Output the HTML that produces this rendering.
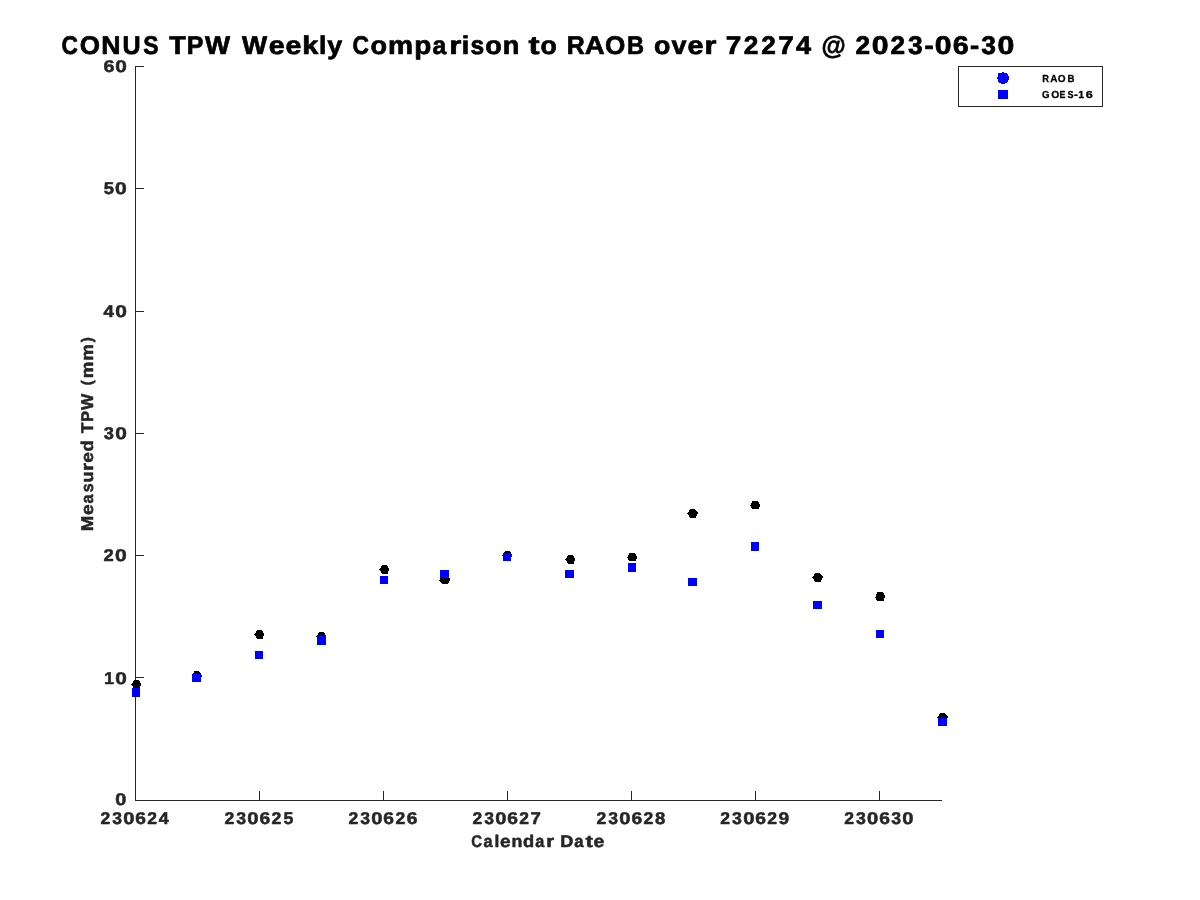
<!DOCTYPE html>
<html lang="en"><head><meta charset="utf-8"><title>CONUS TPW Weekly Comparison</title>
<style>html,body{margin:0;padding:0;background:#fff;}body{width:1200px;height:900px;overflow:hidden;font-family:'Liberation Sans', sans-serif;}svg{display:block;will-change:transform;}text{font-family:'Liberation Sans', sans-serif;font-weight:bold;text-rendering:geometricPrecision;stroke-linejoin:round;}</style></head><body>
<svg width="1200" height="900" viewBox="0 0 1200 900">
<rect width="1200" height="900" fill="#ffffff"/>
<g stroke="#262626" stroke-width="1" fill="none" shape-rendering="crispEdges">
<line x1="135.5" y1="66" x2="135.5" y2="801"/>
<line x1="135" y1="800.5" x2="942" y2="800.5"/>
<line x1="259.5" y1="800.5" x2="259.5" y2="791"/>
<line x1="383.5" y1="800.5" x2="383.5" y2="791"/>
<line x1="507.5" y1="800.5" x2="507.5" y2="791"/>
<line x1="631.5" y1="800.5" x2="631.5" y2="791"/>
<line x1="755.5" y1="800.5" x2="755.5" y2="791"/>
<line x1="879.5" y1="800.5" x2="879.5" y2="791"/>
<line x1="135.5" y1="677.5" x2="144" y2="677.5"/>
<line x1="135.5" y1="555.5" x2="144" y2="555.5"/>
<line x1="135.5" y1="433.5" x2="144" y2="433.5"/>
<line x1="135.5" y1="311.5" x2="144" y2="311.5"/>
<line x1="135.5" y1="188.5" x2="144" y2="188.5"/>
<line x1="135.5" y1="66.5" x2="144" y2="66.5"/>
</g>
<rect x="958.5" y="66.5" width="144" height="40" fill="#ffffff" stroke="#262626" stroke-width="1" shape-rendering="crispEdges"/>
<text transform="translate(61.42,53.60) scale(0.8868,1.0000)" font-size="25.6" fill="#000000" stroke="#000000" stroke-width="0.7">C</text><text transform="translate(79.68,53.60) scale(1.0175,1.0000)" font-size="25.6" fill="#000000" stroke="#000000" stroke-width="0.7">O</text><text transform="translate(101.32,53.60) scale(1.0415,1.0000)" font-size="25.6" fill="#000000" stroke="#000000" stroke-width="0.7">N</text><text transform="translate(122.58,53.60) scale(0.9781,1.0000)" font-size="25.6" fill="#000000" stroke="#000000" stroke-width="0.7">U</text><text transform="translate(143.27,53.60) scale(0.8944,1.0000)" font-size="25.6" fill="#000000" stroke="#000000" stroke-width="0.7">S</text>
<text transform="translate(169.25,53.60) scale(1.0543,1.0000)" font-size="25.6" fill="#000000" stroke="#000000" stroke-width="0.7">T</text><text transform="translate(186.87,53.60) scale(0.9747,1.0000)" font-size="25.6" fill="#000000" stroke="#000000" stroke-width="0.7">P</text><text transform="translate(205.09,53.60) scale(1.0383,1.0000)" font-size="25.6" fill="#000000" stroke="#000000" stroke-width="0.7">W</text>
<text transform="translate(242.12,53.60) scale(1.0398,1.0000)" font-size="25.6" fill="#000000" stroke="#000000" stroke-width="0.7">W</text><text transform="translate(268.64,53.60) scale(1.1176,1.0000)" font-size="25.6" fill="#000000" stroke="#000000" stroke-width="0.7">e</text><text transform="translate(285.42,53.60) scale(1.1176,1.0000)" font-size="25.6" fill="#000000" stroke="#000000" stroke-width="0.7">e</text><text transform="translate(302.30,53.60) scale(1.1337,1.0000)" font-size="25.6" fill="#000000" stroke="#000000" stroke-width="0.7">k</text><text transform="translate(318.93,53.60) scale(1.0316,1.0000)" font-size="25.6" fill="#000000" stroke="#000000" stroke-width="0.7">l</text><text transform="translate(327.26,53.60) scale(1.0557,1.0000)" font-size="25.6" fill="#000000" stroke="#000000" stroke-width="0.7">y</text>
<text transform="translate(352.41,53.60) scale(0.8907,1.0000)" font-size="25.6" fill="#000000" stroke="#000000" stroke-width="0.7">C</text><text transform="translate(370.59,53.60) scale(1.0580,1.0000)" font-size="25.6" fill="#000000" stroke="#000000" stroke-width="0.7">o</text><text transform="translate(388.09,53.60) scale(1.1005,1.0000)" font-size="25.6" fill="#000000" stroke="#000000" stroke-width="0.7">m</text><text transform="translate(414.36,53.60) scale(1.0909,1.0000)" font-size="25.6" fill="#000000" stroke="#000000" stroke-width="0.7">p</text><text transform="translate(432.46,53.60) scale(0.9688,1.0000)" font-size="25.6" fill="#000000" stroke="#000000" stroke-width="0.7">a</text><text transform="translate(449.16,53.60) scale(1.2076,1.0000)" font-size="25.6" fill="#000000" stroke="#000000" stroke-width="0.7">r</text><text transform="translate(461.73,53.60) scale(1.0533,1.0000)" font-size="25.6" fill="#000000" stroke="#000000" stroke-width="0.7">i</text><text transform="translate(470.57,53.60) scale(0.9592,1.0000)" font-size="25.6" fill="#000000" stroke="#000000" stroke-width="0.7">s</text><text transform="translate(485.13,53.60) scale(1.0580,1.0000)" font-size="25.6" fill="#000000" stroke="#000000" stroke-width="0.7">o</text><text transform="translate(502.72,53.60) scale(1.0627,1.0000)" font-size="25.6" fill="#000000" stroke="#000000" stroke-width="0.7">n</text>
<text transform="translate(528.44,53.60) scale(1.2986,1.0000)" font-size="25.6" fill="#000000" stroke="#000000" stroke-width="0.7">t</text><text transform="translate(540.40,53.60) scale(1.0417,1.0000)" font-size="25.6" fill="#000000" stroke="#000000" stroke-width="0.7">o</text>
<text transform="translate(566.68,53.60) scale(0.9742,1.0000)" font-size="25.6" fill="#000000" stroke="#000000" stroke-width="0.7">R</text><text transform="translate(584.82,53.60) scale(1.0767,1.0000)" font-size="25.6" fill="#000000" stroke="#000000" stroke-width="0.7">A</text><text transform="translate(605.00,53.60) scale(1.0196,1.0000)" font-size="25.6" fill="#000000" stroke="#000000" stroke-width="0.7">O</text><text transform="translate(626.90,53.60) scale(0.9205,1.0000)" font-size="25.6" fill="#000000" stroke="#000000" stroke-width="0.7">B</text>
<text transform="translate(654.10,53.60) scale(1.0468,1.0000)" font-size="25.6" fill="#000000" stroke="#000000" stroke-width="0.7">o</text><text transform="translate(671.47,53.60) scale(1.0552,1.0000)" font-size="25.6" fill="#000000" stroke="#000000" stroke-width="0.7">v</text><text transform="translate(687.38,53.60) scale(1.1262,1.0000)" font-size="25.6" fill="#000000" stroke="#000000" stroke-width="0.7">e</text><text transform="translate(704.41,53.60) scale(1.1945,1.0000)" font-size="25.6" fill="#000000" stroke="#000000" stroke-width="0.7">r</text>
<text transform="translate(725.65,53.60) scale(1.0923,1.0000)" font-size="25.6" fill="#000000" stroke="#000000" stroke-width="0.7">7</text><text transform="translate(743.76,53.60) scale(1.0248,1.0000)" font-size="25.6" fill="#000000" stroke="#000000" stroke-width="0.7">2</text><text transform="translate(761.26,53.60) scale(1.0248,1.0000)" font-size="25.6" fill="#000000" stroke="#000000" stroke-width="0.7">2</text><text transform="translate(778.17,53.60) scale(1.0923,1.0000)" font-size="25.6" fill="#000000" stroke="#000000" stroke-width="0.7">7</text><text transform="translate(795.92,53.60) scale(1.0591,1.0000)" font-size="25.6" fill="#000000" stroke="#000000" stroke-width="0.7">4</text>
<text transform="translate(821.43,53.60) scale(0.9676,1.0000)" font-size="25.6" fill="#000000" stroke="#000000" stroke-width="0.7">@</text>
<text transform="translate(855.44,53.60) scale(1.0230,1.0000)" font-size="25.6" fill="#000000" stroke="#000000" stroke-width="0.7">2</text><text transform="translate(871.85,53.60) scale(1.1807,1.0000)" font-size="25.6" fill="#000000" stroke="#000000" stroke-width="0.7">0</text><text transform="translate(890.40,53.60) scale(1.0230,1.0000)" font-size="25.6" fill="#000000" stroke="#000000" stroke-width="0.7">2</text><text transform="translate(907.88,53.60) scale(1.0294,1.0000)" font-size="25.6" fill="#000000" stroke="#000000" stroke-width="0.7">3</text><text transform="translate(924.57,53.60) scale(1.0774,1.0000)" font-size="25.6" fill="#000000" stroke="#000000" stroke-width="0.7">-</text><text transform="translate(934.71,53.60) scale(1.1807,1.0000)" font-size="25.6" fill="#000000" stroke="#000000" stroke-width="0.7">0</text><text transform="translate(952.69,53.60) scale(1.1210,1.0000)" font-size="25.6" fill="#000000" stroke="#000000" stroke-width="0.7">6</text><text transform="translate(969.95,53.60) scale(1.0774,1.0000)" font-size="25.6" fill="#000000" stroke="#000000" stroke-width="0.7">-</text><text transform="translate(981.17,53.60) scale(1.0294,1.0000)" font-size="25.6" fill="#000000" stroke="#000000" stroke-width="0.7">3</text><text transform="translate(997.58,53.60) scale(1.1807,1.0000)" font-size="25.6" fill="#000000" stroke="#000000" stroke-width="0.7">0</text>
<text transform="translate(115.36,805.45) scale(1.1750,1.0000)" font-size="17.0" fill="#262626" stroke="#262626" stroke-width="0.5">0</text>
<text transform="translate(104.01,683.50) scale(1.0641,1.0000)" font-size="17.0" fill="#262626" stroke="#262626" stroke-width="0.5">1</text><text transform="translate(115.27,683.50) scale(1.2255,1.0000)" font-size="17.0" fill="#262626" stroke="#262626" stroke-width="0.5">0</text>
<text transform="translate(103.61,561.35) scale(1.0778,1.0000)" font-size="17.0" fill="#262626" stroke="#262626" stroke-width="0.5">2</text><text transform="translate(115.11,561.35) scale(1.2440,1.0000)" font-size="17.0" fill="#262626" stroke="#262626" stroke-width="0.5">0</text>
<text transform="translate(103.83,439.35) scale(1.0736,1.0000)" font-size="17.0" fill="#262626" stroke="#262626" stroke-width="0.5">3</text><text transform="translate(115.21,439.35) scale(1.2316,1.0000)" font-size="17.0" fill="#262626" stroke="#262626" stroke-width="0.5">0</text>
<text transform="translate(103.57,316.65) scale(1.1037,1.0000)" font-size="17.0" fill="#262626" stroke="#262626" stroke-width="0.5">4</text><text transform="translate(115.21,316.65) scale(1.2325,1.0000)" font-size="17.0" fill="#262626" stroke="#262626" stroke-width="0.5">0</text>
<text transform="translate(103.68,194.45) scale(1.0807,1.0000)" font-size="17.0" fill="#262626" stroke="#262626" stroke-width="0.5">5</text><text transform="translate(115.12,194.45) scale(1.2420,1.0000)" font-size="17.0" fill="#262626" stroke="#262626" stroke-width="0.5">0</text>
<text transform="translate(103.53,72.45) scale(1.1645,1.0000)" font-size="17.0" fill="#262626" stroke="#262626" stroke-width="0.5">6</text><text transform="translate(115.26,72.45) scale(1.2266,1.0000)" font-size="17.0" fill="#262626" stroke="#262626" stroke-width="0.5">0</text>
<text transform="translate(100.49,823.75) scale(1.0266,1.0000)" font-size="17.0" fill="#262626" stroke="#262626" stroke-width="0.5">2</text><text transform="translate(112.18,823.75) scale(1.0331,1.0000)" font-size="17.0" fill="#262626" stroke="#262626" stroke-width="0.5">3</text><text transform="translate(123.16,823.75) scale(1.1854,1.0000)" font-size="17.0" fill="#262626" stroke="#262626" stroke-width="0.5">0</text><text transform="translate(135.19,823.75) scale(1.1253,1.0000)" font-size="17.0" fill="#262626" stroke="#262626" stroke-width="0.5">6</text><text transform="translate(147.26,823.75) scale(1.0266,1.0000)" font-size="17.0" fill="#262626" stroke="#262626" stroke-width="0.5">2</text><text transform="translate(158.71,823.75) scale(1.0615,1.0000)" font-size="17.0" fill="#262626" stroke="#262626" stroke-width="0.5">4</text>
<text transform="translate(224.39,823.75) scale(1.0363,1.0000)" font-size="17.0" fill="#262626" stroke="#262626" stroke-width="0.5">2</text><text transform="translate(236.18,823.75) scale(1.0429,1.0000)" font-size="17.0" fill="#262626" stroke="#262626" stroke-width="0.5">3</text><text transform="translate(247.26,823.75) scale(1.1965,1.0000)" font-size="17.0" fill="#262626" stroke="#262626" stroke-width="0.5">0</text><text transform="translate(259.39,823.75) scale(1.1358,1.0000)" font-size="17.0" fill="#262626" stroke="#262626" stroke-width="0.5">6</text><text transform="translate(271.57,823.75) scale(1.0363,1.0000)" font-size="17.0" fill="#262626" stroke="#262626" stroke-width="0.5">2</text><text transform="translate(283.40,823.75) scale(1.0409,1.0000)" font-size="17.0" fill="#262626" stroke="#262626" stroke-width="0.5">5</text>
<text transform="translate(348.49,823.75) scale(1.0319,1.0000)" font-size="17.0" fill="#262626" stroke="#262626" stroke-width="0.5">2</text><text transform="translate(360.24,823.75) scale(1.0385,1.0000)" font-size="17.0" fill="#262626" stroke="#262626" stroke-width="0.5">3</text><text transform="translate(371.27,823.75) scale(1.1914,1.0000)" font-size="17.0" fill="#262626" stroke="#262626" stroke-width="0.5">0</text><text transform="translate(383.35,823.75) scale(1.1311,1.0000)" font-size="17.0" fill="#262626" stroke="#262626" stroke-width="0.5">6</text><text transform="translate(395.49,823.75) scale(1.0319,1.0000)" font-size="17.0" fill="#262626" stroke="#262626" stroke-width="0.5">2</text><text transform="translate(406.85,823.75) scale(1.1311,1.0000)" font-size="17.0" fill="#262626" stroke="#262626" stroke-width="0.5">6</text>
<text transform="translate(472.54,823.75) scale(1.0268,1.0000)" font-size="17.0" fill="#262626" stroke="#262626" stroke-width="0.5">2</text><text transform="translate(484.24,823.75) scale(1.0334,1.0000)" font-size="17.0" fill="#262626" stroke="#262626" stroke-width="0.5">3</text><text transform="translate(495.22,823.75) scale(1.1857,1.0000)" font-size="17.0" fill="#262626" stroke="#262626" stroke-width="0.5">0</text><text transform="translate(507.25,823.75) scale(1.1256,1.0000)" font-size="17.0" fill="#262626" stroke="#262626" stroke-width="0.5">6</text><text transform="translate(519.32,823.75) scale(1.0268,1.0000)" font-size="17.0" fill="#262626" stroke="#262626" stroke-width="0.5">2</text><text transform="translate(530.62,823.75) scale(1.0947,1.0000)" font-size="17.0" fill="#262626" stroke="#262626" stroke-width="0.5">7</text>
<text transform="translate(596.54,823.75) scale(1.0317,1.0000)" font-size="17.0" fill="#262626" stroke="#262626" stroke-width="0.5">2</text><text transform="translate(608.29,823.75) scale(1.0383,1.0000)" font-size="17.0" fill="#262626" stroke="#262626" stroke-width="0.5">3</text><text transform="translate(619.32,823.75) scale(1.1913,1.0000)" font-size="17.0" fill="#262626" stroke="#262626" stroke-width="0.5">0</text><text transform="translate(631.40,823.75) scale(1.1309,1.0000)" font-size="17.0" fill="#262626" stroke="#262626" stroke-width="0.5">6</text><text transform="translate(643.53,823.75) scale(1.0317,1.0000)" font-size="17.0" fill="#262626" stroke="#262626" stroke-width="0.5">2</text><text transform="translate(654.99,823.75) scale(1.0927,1.0000)" font-size="17.0" fill="#262626" stroke="#262626" stroke-width="0.5">8</text>
<text transform="translate(720.34,823.75) scale(1.0323,1.0000)" font-size="17.0" fill="#262626" stroke="#262626" stroke-width="0.5">2</text><text transform="translate(732.09,823.75) scale(1.0389,1.0000)" font-size="17.0" fill="#262626" stroke="#262626" stroke-width="0.5">3</text><text transform="translate(743.13,823.75) scale(1.1919,1.0000)" font-size="17.0" fill="#262626" stroke="#262626" stroke-width="0.5">0</text><text transform="translate(755.22,823.75) scale(1.1315,1.0000)" font-size="17.0" fill="#262626" stroke="#262626" stroke-width="0.5">6</text><text transform="translate(767.35,823.75) scale(1.0323,1.0000)" font-size="17.0" fill="#262626" stroke="#262626" stroke-width="0.5">2</text><text transform="translate(778.59,823.75) scale(1.1292,1.0000)" font-size="17.0" fill="#262626" stroke="#262626" stroke-width="0.5">9</text>
<text transform="translate(844.34,823.75) scale(1.0311,1.0000)" font-size="17.0" fill="#262626" stroke="#262626" stroke-width="0.5">2</text><text transform="translate(856.08,823.75) scale(1.0377,1.0000)" font-size="17.0" fill="#262626" stroke="#262626" stroke-width="0.5">3</text><text transform="translate(867.10,823.75) scale(1.1905,1.0000)" font-size="17.0" fill="#262626" stroke="#262626" stroke-width="0.5">0</text><text transform="translate(879.18,823.75) scale(1.1302,1.0000)" font-size="17.0" fill="#262626" stroke="#262626" stroke-width="0.5">6</text><text transform="translate(891.30,823.75) scale(1.0377,1.0000)" font-size="17.0" fill="#262626" stroke="#262626" stroke-width="0.5">3</text><text transform="translate(902.32,823.75) scale(1.1905,1.0000)" font-size="17.0" fill="#262626" stroke="#262626" stroke-width="0.5">0</text>
<text transform="translate(471.34,846.55) scale(0.8784,1.0000)" font-size="17.0" fill="#262626" stroke="#262626" stroke-width="0.5">C</text><text transform="translate(483.51,846.55) scale(0.9550,1.0000)" font-size="17.0" fill="#262626" stroke="#262626" stroke-width="0.5">a</text><text transform="translate(494.61,846.55) scale(1.0260,1.0000)" font-size="17.0" fill="#262626" stroke="#262626" stroke-width="0.5">l</text><text transform="translate(500.08,846.55) scale(1.1223,1.0000)" font-size="17.0" fill="#262626" stroke="#262626" stroke-width="0.5">e</text><text transform="translate(511.55,846.55) scale(1.0475,1.0000)" font-size="17.0" fill="#262626" stroke="#262626" stroke-width="0.5">n</text><text transform="translate(523.11,846.55) scale(1.0756,1.0000)" font-size="17.0" fill="#262626" stroke="#262626" stroke-width="0.5">d</text><text transform="translate(535.20,846.55) scale(0.9550,1.0000)" font-size="17.0" fill="#262626" stroke="#262626" stroke-width="0.5">a</text><text transform="translate(546.19,846.55) scale(1.1882,1.0000)" font-size="17.0" fill="#262626" stroke="#262626" stroke-width="0.5">r</text>
<text transform="translate(560.34,846.55) scale(1.0666,1.0000)" font-size="17.0" fill="#262626" stroke="#262626" stroke-width="0.5">D</text><text transform="translate(574.30,846.55) scale(0.9786,1.0000)" font-size="17.0" fill="#262626" stroke="#262626" stroke-width="0.5">a</text><text transform="translate(585.46,846.55) scale(1.3200,1.0000)" font-size="17.0" fill="#262626" stroke="#262626" stroke-width="0.5">t</text><text transform="translate(593.55,846.55) scale(1.1500,1.0000)" font-size="17.0" fill="#262626" stroke="#262626" stroke-width="0.5">e</text>
<g transform="translate(92.95,0) rotate(-90)"><text transform="translate(-531.19,0.00) scale(1.0895,1.0000)" font-size="17.0" fill="#262626" stroke="#262626" stroke-width="0.5">M</text><text transform="translate(-515.00,0.00) scale(1.1247,1.0000)" font-size="17.0" fill="#262626" stroke="#262626" stroke-width="0.5">e</text><text transform="translate(-503.49,0.00) scale(0.9570,1.0000)" font-size="17.0" fill="#262626" stroke="#262626" stroke-width="0.5">a</text><text transform="translate(-492.24,0.00) scale(0.9470,1.0000)" font-size="17.0" fill="#262626" stroke="#262626" stroke-width="0.5">s</text><text transform="translate(-482.47,0.00) scale(1.0497,1.0000)" font-size="17.0" fill="#262626" stroke="#262626" stroke-width="0.5">u</text><text transform="translate(-470.80,0.00) scale(1.1908,1.0000)" font-size="17.0" fill="#262626" stroke="#262626" stroke-width="0.5">r</text><text transform="translate(-462.71,0.00) scale(1.1247,1.0000)" font-size="17.0" fill="#262626" stroke="#262626" stroke-width="0.5">e</text><text transform="translate(-451.43,0.00) scale(1.0778,1.0000)" font-size="17.0" fill="#262626" stroke="#262626" stroke-width="0.5">d</text><text transform="translate(-433.25,0.00) scale(1.0236,1.0000)" font-size="17.0" fill="#262626" stroke="#262626" stroke-width="0.5">T</text><text transform="translate(-421.82,0.00) scale(0.9458,1.0000)" font-size="17.0" fill="#262626" stroke="#262626" stroke-width="0.5">P</text><text transform="translate(-410.03,0.00) scale(1.0097,1.0000)" font-size="17.0" fill="#262626" stroke="#262626" stroke-width="0.5">W</text><text transform="translate(-385.32,-1.07) scale(0.9088,0.9017)" font-size="17.0" fill="#262626" stroke="#262626" stroke-width="0.5">(</text><text transform="translate(-378.20,0.00) scale(1.0969,1.0000)" font-size="17.0" fill="#262626" stroke="#262626" stroke-width="0.5">m</text><text transform="translate(-360.79,0.00) scale(1.0969,1.0000)" font-size="17.0" fill="#262626" stroke="#262626" stroke-width="0.5">m</text><text transform="translate(-342.23,-1.07) scale(0.9088,0.9017)" font-size="17.0" fill="#262626" stroke="#262626" stroke-width="0.5">)</text></g>
<text transform="translate(1042.27,81.90) scale(0.9190,1.0000)" font-size="10.2" fill="#000000" stroke="#000000" stroke-width="0.3">R</text>
<text transform="translate(1050.15,81.90) scale(0.9791,1.0000)" font-size="10.2" fill="#000000" stroke="#000000" stroke-width="0.3">A</text>
<text transform="translate(1057.74,81.90) scale(0.9806,1.0000)" font-size="10.2" fill="#000000" stroke="#000000" stroke-width="0.3">O</text>
<text transform="translate(1067.40,81.90) scale(0.9485,1.0000)" font-size="10.2" fill="#000000" stroke="#000000" stroke-width="0.3">B</text>
<text transform="translate(1042.00,97.75) scale(0.9516,1.0000)" font-size="10.2" fill="#000000" stroke="#000000" stroke-width="0.3">G</text>
<text transform="translate(1051.22,97.75) scale(1.0159,1.0000)" font-size="10.2" fill="#000000" stroke="#000000" stroke-width="0.3">O</text>
<text transform="translate(1059.56,97.75) scale(0.8650,1.0000)" font-size="10.2" fill="#000000" stroke="#000000" stroke-width="0.3">E</text>
<text transform="translate(1067.39,97.75) scale(0.8918,1.0000)" font-size="10.2" fill="#000000" stroke="#000000" stroke-width="0.3">S</text>
<text transform="translate(1073.95,97.75) scale(1.1391,1.0000)" font-size="10.2" fill="#000000" stroke="#000000" stroke-width="0.3">-</text>
<text transform="translate(1078.23,97.75) scale(1.0429,1.0000)" font-size="10.2" fill="#000000" stroke="#000000" stroke-width="0.3">1</text>
<text transform="translate(1085.79,97.75) scale(1.2372,1.0000)" font-size="10.2" fill="#000000" stroke="#000000" stroke-width="0.3">6</text>
<path fill="#000000" shape-rendering="crispEdges" d="M134,680h5v1h-5zM133,681h7v1h-7zM133,682h7v1h-7zM132,683h9v1h-9zM131,684h10v1h-10zM132,685h9v1h-9zM133,686h7v1h-7zM133,687h7v1h-7zM134,688h6v1h-6zM194,671h5v1h-5zM194,672h6v1h-6zM193,673h8v1h-8zM193,674h8v1h-8zM192,675h10v1h-10zM193,676h9v1h-9zM193,677h8v1h-8zM194,678h6v1h-6zM194,679h5v1h-5zM257,630h5v1h-5zM256,631h7v1h-7zM256,632h7v1h-7zM255,633h9v1h-9zM254,634h10v1h-10zM255,635h9v1h-9zM256,636h7v1h-7zM256,637h7v1h-7zM257,638h6v1h-6zM319,632h5v1h-5zM318,633h7v1h-7zM318,634h7v1h-7zM317,635h9v1h-9zM316,636h10v1h-10zM317,637h9v1h-9zM318,638h7v1h-7zM318,639h7v1h-7zM319,640h6v1h-6zM382,565h5v1h-5zM381,566h7v1h-7zM381,567h7v1h-7zM380,568h9v1h-9zM379,569h10v1h-10zM380,570h9v1h-9zM381,571h7v1h-7zM381,572h7v1h-7zM382,573h6v1h-6zM442,575h5v1h-5zM441,576h7v1h-7zM441,577h8v1h-8zM440,578h10v1h-10zM440,579h10v1h-10zM439,580h11v1h-11zM440,581h9v1h-9zM441,582h8v1h-8zM442,583h6v1h-6zM505,551h5v1h-5zM504,552h7v1h-7zM504,553h7v1h-7zM503,554h9v1h-9zM502,555h10v1h-10zM503,556h9v1h-9zM504,557h7v1h-7zM504,558h7v1h-7zM505,559h6v1h-6zM568,555h5v1h-5zM567,556h7v1h-7zM567,557h7v1h-7zM566,558h9v1h-9zM565,559h10v1h-10zM566,560h9v1h-9zM567,561h7v1h-7zM567,562h7v1h-7zM568,563h6v1h-6zM629,553h6v1h-6zM629,554h7v1h-7zM628,555h8v1h-8zM628,556h9v1h-9zM627,557h10v1h-10zM628,558h9v1h-9zM628,559h8v1h-8zM629,560h7v1h-7zM690,509h5v1h-5zM689,510h7v1h-7zM689,511h8v1h-8zM688,512h10v1h-10zM687,513h11v1h-11zM688,514h9v1h-9zM689,515h8v1h-8zM689,516h7v1h-7zM690,517h6v1h-6zM752,501h6v1h-6zM752,502h7v1h-7zM751,503h8v1h-8zM751,504h9v1h-9zM750,505h10v1h-10zM751,506h9v1h-9zM751,507h8v1h-8zM752,508h7v1h-7zM815,573h5v1h-5zM814,574h7v1h-7zM814,575h8v1h-8zM813,576h10v1h-10zM812,577h11v1h-11zM813,578h9v1h-9zM814,579h8v1h-8zM814,580h7v1h-7zM815,581h6v1h-6zM877,592h6v1h-6zM877,593h7v1h-7zM876,594h8v1h-8zM876,595h9v1h-9zM876,596h9v1h-9zM875,597h10v1h-10zM876,598h8v1h-8zM876,599h8v1h-8zM877,600h7v1h-7zM940,713h5v1h-5zM939,714h7v1h-7zM939,715h8v1h-8zM938,716h10v1h-10zM937,717h11v1h-11zM938,718h9v1h-9zM939,719h8v1h-8zM939,720h7v1h-7zM940,721h6v1h-6z"/>
<path fill="#0000ff" shape-rendering="crispEdges" d="M132,688H140V697H132zM192,674H201V682H192zM255,651H263V659H255zM317,636H326V645H317zM380,576H388V584H380zM440,570H449V578H440zM503,553H511V561H503zM565,570H574V578H565zM628,563H636V572H628zM688,578H697V586H688zM751,542H759V551H751zM813,601H822V609H813zM876,630H884V638H876zM938,718H947V726H938z"/>
<path fill="#0000ff" shape-rendering="crispEdges" d="M1002,72h2v1h-2zM998,73h9v1h-9zM998,74h10v1h-10zM998,75h10v1h-10zM998,76h11v1h-11zM997,77h12v1h-12zM997,78h12v1h-12zM998,79h11v1h-11zM998,80h10v1h-10zM998,81h10v1h-10zM999,82h8v1h-8zM1001,83h4v1h-4zM998,90H1008V99H998z"/>
</svg></body></html>
